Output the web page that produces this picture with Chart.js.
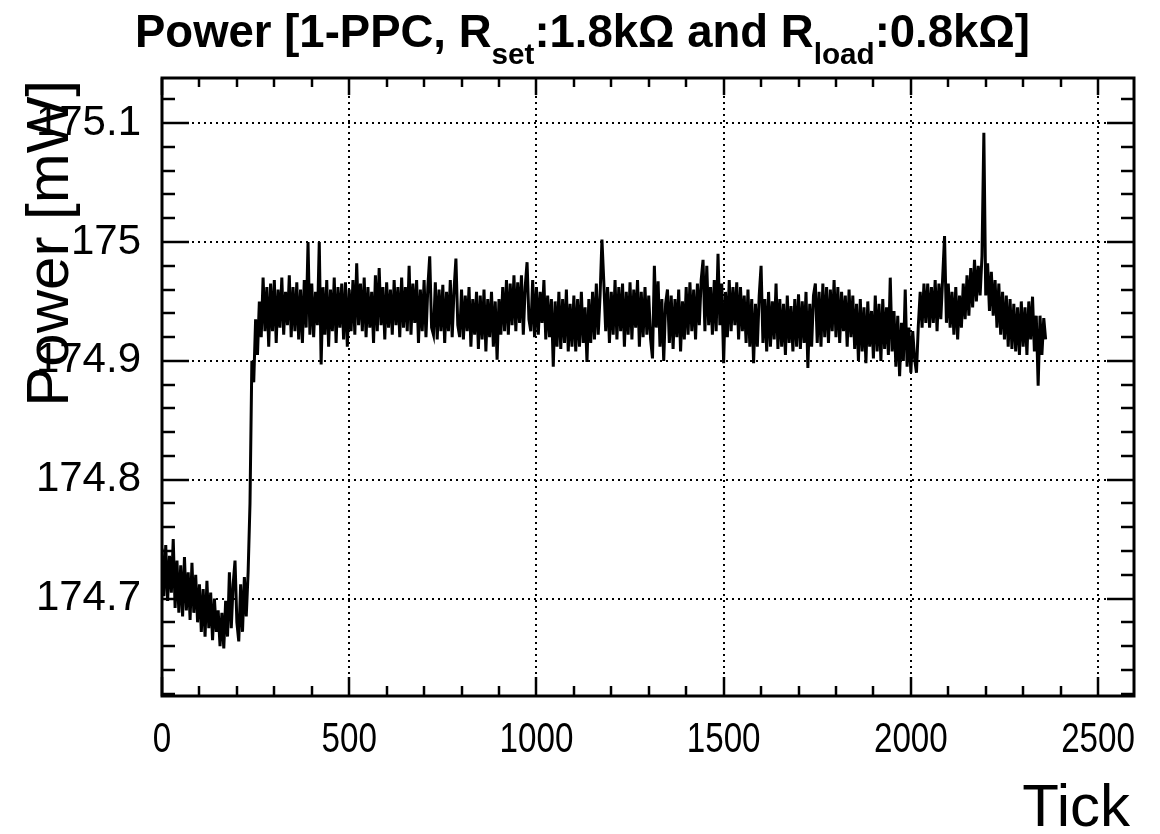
<!DOCTYPE html>
<html>
<head>
<meta charset="utf-8">
<title>Power [1-PPC]</title>
<script src="https://cdn.jsdelivr.net/npm/chart.js@4.4.1/dist/chart.umd.min.js"></script>
<style>
    html, body { margin: 0; padding: 0; background: #ffffff; overflow: hidden; }
    #power_chart { display: block; }
</style>
</head>
<body>
<canvas id="power_chart" width="1160" height="834"></canvas>
<script>

// one reading kept every 5 ticks
const TICK_STEP = 5;

const power = [
    174.742, 174.702, 174.745, 174.698, 174.736, 174.705, 174.750, 174.692, 174.732, 174.688,
    174.728, 174.685, 174.735, 174.690, 174.722, 174.682, 174.730, 174.688, 174.720, 174.680,
    174.712, 174.672, 174.708, 174.668, 174.715, 174.675, 174.705, 174.665, 174.700, 174.672,
    174.690, 174.660, 174.688, 174.658, 174.698, 174.668, 174.722, 174.675, 174.712, 174.732,
    174.680, 174.664, 174.712, 174.672, 174.718, 174.685, 174.722, 174.780, 174.900, 174.882,
    174.935, 174.905, 174.950, 174.920, 174.970, 174.925, 174.962, 174.912, 174.965, 174.925,
    174.968, 174.915, 174.960, 174.928, 174.970, 174.922, 174.958, 174.930, 174.972, 174.920,
    174.962, 174.925, 174.966, 174.918, 174.960, 174.915, 174.968, 174.928, 175.000, 174.922,
    174.965, 174.920, 174.958, 174.930, 175.000, 174.897, 174.962, 174.922, 174.968, 174.912,
    174.960, 174.925, 174.970, 174.915, 174.962, 174.928, 174.965, 174.918, 174.966, 174.912,
    174.960, 174.925, 174.968, 174.922, 174.982, 174.930, 174.965, 174.925, 174.970, 174.920,
    174.962, 174.928, 174.958, 174.915, 174.972, 174.925, 174.978, 174.930, 174.962, 174.918,
    174.966, 174.928, 174.960, 174.922, 174.968, 174.930, 174.962, 174.920, 174.970, 174.928,
    174.962, 174.925, 174.980, 174.922, 174.965, 174.932, 174.968, 174.915, 174.960, 174.925,
    174.968, 174.920, 174.962, 174.988, 174.928, 174.922, 174.966, 174.918, 174.960, 174.925,
    174.964, 174.915, 174.958, 174.925, 174.968, 174.920, 174.960, 174.986, 174.930, 174.920,
    174.960, 174.918, 174.955, 174.925, 174.962, 174.912, 174.952, 174.922, 174.958, 174.910,
    174.955, 174.918, 174.960, 174.908, 174.952, 174.920, 174.958, 174.912, 174.950, 174.901,
    174.952, 174.922, 174.962, 174.925, 174.968, 174.922, 174.965, 174.930, 174.972, 174.925,
    174.966, 174.932, 174.972, 174.922, 174.962, 174.983, 174.935, 174.925, 174.968, 174.920,
    174.962, 174.922, 174.958, 174.932, 174.968, 174.918, 174.955, 174.920, 174.952, 174.895,
    174.950, 174.912, 174.958, 174.910, 174.952, 174.915, 174.960, 174.908, 174.948, 174.912,
    174.955, 174.908, 174.952, 174.912, 174.958, 174.915, 174.945, 174.899, 174.952, 174.915,
    174.958, 174.918, 174.965, 174.922, 174.955, 175.002, 174.966, 174.925, 174.962, 174.915,
    174.958, 174.922, 174.968, 174.918, 174.962, 174.925, 174.965, 174.912, 174.958, 174.922,
    174.966, 174.918, 174.960, 174.928, 174.968, 174.912, 174.958, 174.920, 174.962, 174.922,
    174.955, 174.918, 174.902, 174.980, 174.928, 174.967, 174.912, 174.952, 174.900, 174.948,
    174.960, 174.915, 174.955, 174.910, 174.952, 174.920, 174.960, 174.908, 174.950, 174.918,
    174.962, 174.922, 174.966, 174.925, 174.960, 174.918, 174.965, 174.930, 174.968, 174.985,
    174.925, 174.980, 174.930, 174.962, 174.922, 174.968, 174.925, 174.990, 174.930, 174.965,
    174.898, 174.958, 174.920, 174.968, 174.925, 174.962, 174.930, 174.966, 174.918, 174.962,
    174.925, 174.955, 174.915, 174.960, 174.912, 174.952, 174.898, 174.948, 174.912, 174.955,
    174.980, 174.915, 174.952, 174.908, 174.958, 174.912, 174.950, 174.918, 174.965, 174.910,
    174.952, 174.912, 174.948, 174.905, 174.955, 174.915, 174.946, 174.908, 174.952, 174.912,
    174.956, 174.910, 174.950, 174.915, 174.958, 174.894, 174.948, 174.912, 174.955, 174.965,
    174.915, 174.958, 174.912, 174.965, 174.920, 174.962, 174.915, 174.960, 174.925, 174.968,
    174.920, 174.962, 174.915, 174.958, 174.925, 174.955, 174.912, 174.960, 174.920, 174.955,
    174.910, 174.948, 174.900, 174.952, 174.908, 174.945, 174.898, 174.950, 174.912, 174.942,
    174.902, 174.955, 174.908, 174.948, 174.900, 174.952, 174.910, 174.945, 174.905, 174.970,
    174.908, 174.942, 174.895, 174.938, 174.887, 174.932, 174.900, 174.960, 174.895, 174.928,
    174.890, 174.925, 174.902, 174.890, 174.930, 174.958, 174.928, 174.965, 174.932, 174.965,
    174.928, 174.962, 174.932, 174.968, 174.925, 174.965, 174.935, 174.970, 175.005, 174.932,
    174.965, 174.928, 174.958, 174.922, 174.962, 174.918, 174.955, 174.928, 174.965, 174.935,
    174.972, 174.938, 174.978, 174.945, 174.985, 174.950, 174.980, 174.955, 174.988, 175.092,
    174.955, 174.982, 174.942, 174.975, 174.938, 174.968, 174.928, 174.965, 174.922, 174.958,
    174.918, 174.955, 174.912, 174.952, 174.910, 174.948, 174.908, 174.945, 174.905, 174.950,
    174.912, 174.945, 174.905, 174.950, 174.918, 174.954, 174.908, 174.938, 174.879, 174.938,
    174.905, 174.936, 174.918
];

const ticks = power.map((v, i) => i * TICK_STEP);

// axis ranges
const X_MIN = 0, X_MAX = 2596;
const Y_MIN = 174.618, Y_MAX = 175.138;

// axis divisions
const xTickValues = [0, 500, 1000, 1500, 2000, 2500];
const xTickLabels = ["0", "500", "1000", "1500", "2000", "2500"];
const xMinorValues = [100, 200, 300, 400, 600, 700, 800, 900, 1100, 1200, 1300, 1400,
                      1600, 1700, 1800, 1900, 2100, 2200, 2300, 2400];
const yTickValues = [174.7, 174.8, 174.9, 175.0, 175.1];
const yTickLabels = ["174.7", "174.8", "174.9", "175", "175.1"];
const yMinorValues = [174.62, 174.64, 174.66, 174.68, 174.72, 174.74, 174.76, 174.78,
                      174.82, 174.84, 174.86, 174.88, 174.92, 174.94, 174.96, 174.98,
                      175.02, 175.04, 175.06, 175.08, 175.12];

// title pieces (subscripts kept apart)
const titleRuns = [
    { text: "Power [1-PPC, R", sub: false },
    { text: "set", sub: true },
    { text: ":1.8k\u03A9 and R", sub: false },
    { text: "load", sub: true },
    { text: ":0.8k\u03A9]", sub: false }
];
const yAxisTitle = "Power [mW]";
const xAxisTitle = "Tick";

const FONT = "'Liberation Sans', Arial, Helvetica, sans-serif";

function strokeLine(ctx, x1, y1, x2, y2) {
    ctx.beginPath();
    ctx.moveTo(x1, y1);
    ctx.lineTo(x2, y2);
    ctx.stroke();
}

// ROOT-like frame: dotted grid, inward ticks on all four sides
const rootFrame = {
    id: "rootFrame",
    beforeDatasetsDraw(chart) {
        const { ctx, chartArea: a, scales } = chart;
        ctx.save();
        ctx.strokeStyle = "#000";
        ctx.lineWidth = 2;
        ctx.setLineDash([2, 4]);
        xTickValues.forEach(v => {
            const px = Math.round(scales.x.getPixelForValue(v));
            strokeLine(ctx, px, a.top, px, a.bottom);
        });
        yTickValues.forEach(v => {
            const py = Math.round(scales.y.getPixelForValue(v));
            strokeLine(ctx, a.left, py, a.right, py);
        });
        ctx.restore();
    },
    afterDatasetsDraw(chart) {
        const { ctx, chartArea: a, scales } = chart;
        ctx.save();
        ctx.strokeStyle = "#000";
        ctx.lineWidth = 3;
        ctx.strokeRect(a.left, a.top, a.right - a.left, a.bottom - a.top);

        ctx.lineWidth = 2.5;
        const drawX = (values, len) => values.forEach(v => {
            const px = Math.round(scales.x.getPixelForValue(v));
            strokeLine(ctx, px, a.bottom, px, a.bottom - len);
            strokeLine(ctx, px, a.top, px, a.top + len * 0.9);
        });
        const drawY = (values, len) => values.forEach(v => {
            const py = Math.round(scales.y.getPixelForValue(v));
            strokeLine(ctx, a.left, py, a.left + len, py);
            strokeLine(ctx, a.right, py, a.right - len, py);
        });
        drawX(xTickValues, 19);
        drawX(xMinorValues, 10);
        drawY(yTickValues, 27);
        drawY(yMinorValues, 13);

        // x tick labels, condensed like the original export
        ctx.fillStyle = "#000";
        ctx.font = "42px " + FONT;
        ctx.textAlign = "center";
        ctx.textBaseline = "alphabetic";
        xTickValues.forEach((v, i) => {
            const px = scales.x.getPixelForValue(v);
            ctx.save();
            ctx.translate(px, 752);
            ctx.scale(0.79, 1);
            ctx.fillText(xTickLabels[i], 0, 0);
            ctx.restore();
        });
        ctx.restore();
    },
    afterDraw(chart) {
        const ctx = chart.ctx;
        ctx.save();
        ctx.fillStyle = "#000";

        // title with subscripts
        const mainFont = "bold 46px " + FONT;
        const subFont = "bold 30px " + FONT;
        let natural = 0;
        titleRuns.forEach(r => {
            ctx.font = r.sub ? subFont : mainFont;
            natural += ctx.measureText(r.text).width;
        });
        const left = 135, width = 895;
        ctx.translate(left, 0);
        ctx.scale(width / natural, 1);
        let cx = 0;
        ctx.textAlign = "left";
        ctx.textBaseline = "alphabetic";
        titleRuns.forEach(r => {
            ctx.font = r.sub ? subFont : mainFont;
            ctx.fillText(r.text, cx, r.sub ? 64 : 47);
            cx += ctx.measureText(r.text).width;
        });
        ctx.setTransform(1, 0, 0, 1, 0, 0);

        // y axis title, placed at top end like ROOT
        ctx.font = "60px " + FONT;
        ctx.translate(68, 80);
        ctx.rotate(-Math.PI / 2);
        ctx.textAlign = "right";
        ctx.fillText(yAxisTitle, 0, 0);
        ctx.setTransform(1, 0, 0, 1, 0, 0);

        // x axis title at the right end
        ctx.textAlign = "right";
        ctx.fillText(xAxisTitle, 1130, 826);
        ctx.restore();
    }
};

const ctx = document.getElementById("power_chart").getContext("2d");
const power_chart = new Chart(ctx, {
    type: "line",
    data: {
        datasets: [{
            data: ticks.map((t, i) => ({ x: t, y: power[i] })),
            borderColor: "#000000",
            borderWidth: 3,
            pointRadius: 0,
            tension: 0,
            fill: false
        }]
    },
    options: {
        responsive: false,
        animation: false,
        devicePixelRatio: 1,
        layout: { padding: { left: 0, right: 26, top: 78, bottom: 0 } },
        plugins: {
            legend: { display: false },
            title: { display: false },
            tooltip: { enabled: false }
        },
        scales: {
            x: {
                type: "linear",
                min: X_MIN,
                max: X_MAX,
                grid: { display: false, drawTicks: false },
                border: { display: false },
                afterBuildTicks: scale => { scale.ticks = xTickValues.map(v => ({ value: v })); },
                afterFit: scale => { scale.height = 138; },
                ticks: { display: false }
            },
            y: {
                type: "linear",
                min: Y_MIN,
                max: Y_MAX,
                grid: { display: false, drawTicks: false },
                border: { display: false },
                afterBuildTicks: scale => { scale.ticks = yTickValues.map(v => ({ value: v })); },
                afterFit: scale => { scale.width = 162; },
                ticks: {
                    autoSkip: false,
                    padding: 21,
                    color: "#000",
                    font: { family: FONT, size: 42 },
                    callback: (value, index) => yTickLabels[index]
                }
            }
        }
    },
    plugins: [rootFrame]
});

</script>
</body>
</html>
